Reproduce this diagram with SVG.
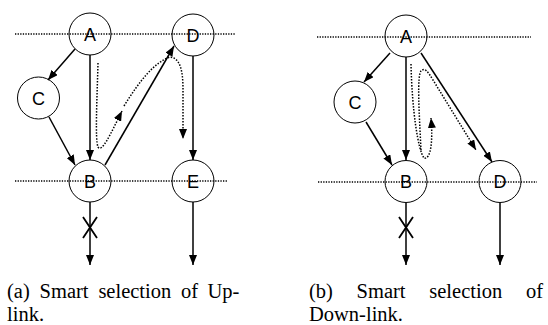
<svg xmlns="http://www.w3.org/2000/svg" width="548" height="325" viewBox="0 0 548 325">
  <style>
    .node circle { fill: none; stroke: #000; stroke-width: 1; }
    .node text { font-family: "Liberation Sans", Arial, sans-serif; font-size: 18px; text-anchor: middle; fill: #000; }
    .guide { stroke: #000; stroke-width: 1.3; stroke-dasharray: 1.3 1.3; fill: none; }
    .edge { stroke: #000; stroke-width: 1.5; fill: none; marker-end: url(#arrow); }
    .path { stroke: #000; stroke-width: 1.5; stroke-dasharray: 1.5 1.5; fill: none; }
    .path.head { marker-end: url(#arrow); }
    .cut { stroke: #000; stroke-width: 1.8; fill: none; }
    .caption { font-family: "Liberation Serif", "Times New Roman", serif; font-size: 20.5px; fill: #000; }
  </style>
  <defs>
    <marker id="arrow" markerUnits="userSpaceOnUse" markerWidth="10" markerHeight="8" refX="10" refY="4" orient="auto">
      <path d="M0,0 L10,4 L0,8 z" fill="#000"/>
    </marker>
  </defs>

  <!-- level guides -->
  <g id="guides">
    <line class="guide" x1="15" y1="34" x2="235" y2="34"/>
    <line class="guide" x1="15" y1="181" x2="228" y2="181"/>
    <line class="guide" x1="317" y1="37" x2="531" y2="37"/>
    <line class="guide" x1="318" y1="182" x2="537" y2="182"/>
  </g>

  <!-- connectors -->
  <g id="connectors">
    <!-- (a) uplink -->
    <line class="edge" x1="75" y1="49" x2="48" y2="80"/>
    <line class="edge" x1="90" y1="55" x2="90" y2="160"/>
    <line class="edge" x1="49" y1="117" x2="75" y2="165"/>
    <line class="edge" x1="105" y1="165" x2="174" y2="46"/>
    <line class="edge" x1="193" y1="56" x2="193" y2="160"/>
    <line class="edge" x1="90" y1="202" x2="90" y2="265"/>
    <line class="edge" x1="193" y1="202" x2="193" y2="265"/>
    <path class="cut" d="M83,217 L97,238 M97,217 L83,238"/>
    <path class="path head" d="M98,63 C97,100 95,140 98,147 C102,153 110,135 122,111"/>
    <path class="path head" d="M124,106 C140,80 155,62 170,57 C180,58 183,70 183,90 L183,139"/>

    <!-- (b) downlink -->
    <line class="edge" x1="390" y1="53" x2="364" y2="82"/>
    <line class="edge" x1="406" y1="57" x2="406" y2="160"/>
    <line class="edge" x1="366" y1="122" x2="392" y2="165"/>
    <line class="edge" x1="421" y1="53" x2="492" y2="162"/>
    <line class="edge" x1="406" y1="203" x2="406" y2="265"/>
    <line class="edge" x1="500" y1="203" x2="500" y2="265"/>
    <path class="cut" d="M399,217 L413,238 M413,217 L399,238"/>
    <path class="path head" d="M411,64 C412,110 418,150 424,158 C431,160 433,140 431,118"/>
    <path class="path head" d="M421,150 C419,110 417,76 421,71 C425,67 428,72 433,80 L476,150"/>
  </g>

  <!-- (a) nodes -->
  <g id="a-A" class="node"><circle cx="90" cy="34" r="21"/><text x="90" y="40.5">A</text></g>
  <g id="a-D" class="node"><circle cx="193" cy="35" r="21"/><text x="193" y="41.5">D</text></g>
  <g id="a-C" class="node"><circle cx="38.5" cy="98" r="21"/><text x="38.5" y="104.5">C</text></g>
  <g id="a-B" class="node"><circle cx="90" cy="181" r="21"/><text x="90" y="187.5">B</text></g>
  <g id="a-E" class="node"><circle cx="193" cy="181" r="21"/><text x="193" y="187.5">E</text></g>

  <!-- (b) nodes -->
  <g id="b-A" class="node"><circle cx="406" cy="36" r="21"/><text x="406" y="42.5">A</text></g>
  <g id="b-C" class="node"><circle cx="355" cy="102" r="21"/><text x="355" y="108.5">C</text></g>
  <g id="b-B" class="node"><circle cx="406" cy="181.5" r="21"/><text x="406" y="188">B</text></g>
  <g id="b-D" class="node"><circle cx="500" cy="181.5" r="21"/><text x="500" y="188">D</text></g>

  <!-- captions (justified by hand) -->
  <g id="captions" class="caption">
    <text y="298"><tspan x="7">(a)</tspan><tspan x="39.6">Smart</tspan><tspan x="98.4">selection</tspan><tspan x="181">of</tspan><tspan x="207.5">Up-</tspan></text>
    <text x="7" y="320.5">link.</text>
    <text y="298"><tspan x="309">(b)</tspan><tspan x="356.6">Smart</tspan><tspan x="429.3">selection</tspan><tspan x="526">of</tspan></text>
    <text x="309" y="320.5">Down-link.</text>
  </g>
</svg>
